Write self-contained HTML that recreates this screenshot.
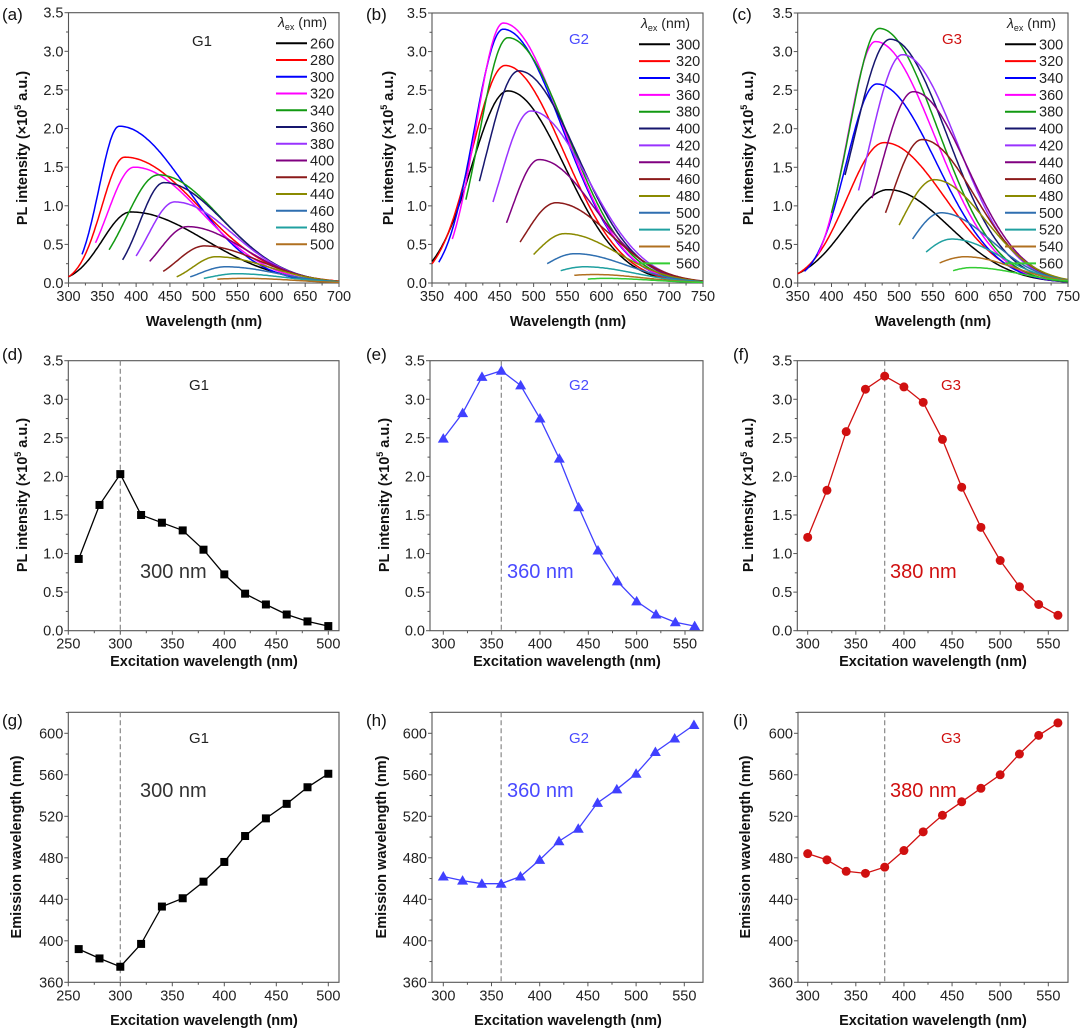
<!DOCTYPE html>
<html><head><meta charset="utf-8"><style>
body{margin:0;background:#fff;}
svg{display:block;font-family:"Liberation Sans",Arial,sans-serif;}
</style></head><body>
<svg id="fig" width="1080" height="1031" viewBox="0 0 1080 1031" xmlns="http://www.w3.org/2000/svg"></svg>
<script>
// ---------- DATA ----------
const colorsA = ["#000000","#ff0000","#0000ff","#ff00ff","#119911","#16166e","#9933ff","#800080","#8b1a1a","#8a8a00","#2f6fb0","#20a0a0","#b07020"];
const colorsBC = ["#000000","#ff0000","#0000ff","#ff00ff","#119911","#16166e","#9933ff","#800080","#8b1a1a","#8a8a00","#2f6fb0","#20a0a0","#b07020","#33cc33"];
// (a) G1 spectra
const exA = [260,280,300,320,340,360,380,400,420,440,460,480,500];
const startXA = [300,300,320,340,360,380,400,420,440,460,480,500,520];
const startYA = [0.08,0.08,0.37,0.52,0.43,0.30,0.35,0.28,0.15,0.08,0.08,0.06,0.05];
const peakXA = [392,383,375,397,433,441,457,476,501,518,532,548,561];
const peakYA = [0.92,1.63,2.03,1.50,1.40,1.30,1.05,0.73,0.48,0.34,0.21,0.12,0.06];
const sigA = [110,110,100,100,92,90,86,84,80,78,75,72,70];
// (b) G2 spectra
const exB = [300,320,340,360,380,400,420,440,460,480,500,520,540,560];
const startXB = [350,350,360,380,400,420,440,460,480,500,520,540,560,580];
const startYB = [0.28,0.25,0.27,0.57,1.08,1.32,1.05,0.78,0.53,0.37,0.25,0.16,0.10,0.05];
const peakXB = [462,458,455,455,462,478,496,508,533,546,561,575,590,605];
const peakYB = [2.49,2.82,3.29,3.37,3.18,2.75,2.23,1.60,1.04,0.64,0.38,0.21,0.11,0.06];
const sigB = [84,86,88,88,88,86,84,82,80,78,76,74,72,70];
// (c) G3 spectra
const exC = [300,320,340,360,380,400,420,440,460,480,500,520,540,560];
const startXC = [350,350,360,380,400,420,440,460,480,500,520,540,560,580];
const startYC = [0.12,0.12,0.15,0.37,0.91,1.40,1.20,1.10,0.91,0.75,0.57,0.40,0.26,0.16];
const peakXC = [484,478,467,465,471,487,505,521,534,552,562,578,598,608];
const peakYC = [1.21,1.82,2.58,3.13,3.30,3.16,2.96,2.48,1.86,1.34,0.91,0.57,0.34,0.20];
const sigC = [90,90,88,88,86,84,82,80,78,76,74,72,70,70];
// (d)(e)(f) intensity vs excitation
const exD = [260,280,300,320,340,360,380,400,420,440,460,480,500];
const intD = [0.93,1.63,2.03,1.50,1.40,1.30,1.05,0.73,0.48,0.34,0.21,0.12,0.06];
const exE = [300,320,340,360,380,400,420,440,460,480,500,520,540,560];
const intE = [2.49,2.82,3.29,3.37,3.18,2.75,2.23,1.60,1.04,0.64,0.38,0.21,0.11,0.06];
const exF = [300,320,340,360,380,400,420,440,460,480,500,520,540,560];
const intF = [1.21,1.82,2.58,3.13,3.30,3.16,2.96,2.48,1.86,1.34,0.91,0.57,0.34,0.20];
// (g)(h)(i) emission vs excitation
const emG = [392,383,375,397,433,441,457,476,501,518,532,548,561];
const emH = [462,458,455,455,462,478,496,508,533,546,561,582,595,608];
const emI = [484,478,467,465,471,487,505,521,534,547,560,580,598,610];
const ticksYI = [0,0.5,1.0,1.5,2.0,2.5,3.0,3.5];
const ticksYE = [360,400,440,480,520,560,600];

// ---------- HELPERS ----------
const NS="http://www.w3.org/2000/svg";
const svg=document.getElementById('fig');
const TF=14.5;
function mk(tag,attrs,parent){const e=document.createElementNS(NS,tag);for(const k in attrs)e.setAttribute(k,attrs[k]);(parent||svg).appendChild(e);return e;}
function txt(s,x,y,attrs,parent){const e=mk('text',Object.assign({x:x,y:y},attrs),parent);e.textContent=s;return e;}

function axes(p){
  const g=mk('g',{});
  
  
  const X=v=>p.xa+(v-p.x0)*(p.xb-p.xa)/(p.x1-p.x0);
  const Y=v=>p.ya+(v-p.y0)*(p.yb-p.ya)/(p.y1-p.y0);
  p.X=X;p.Y=Y;p.g=g;
  const fr=mk('rect',{x:p.l,y:p.t,width:p.r-p.l,height:p.b-p.t,fill:'none',stroke:'#555',"stroke-width":1.1},g);
  
  
  for(const v of p.xt){const x=X(v);if(x>p.r+0.5)continue;mk('line',{x1:x,x2:x,y1:p.b,y2:p.b+4,stroke:'#555'},g);
    const t=txt(String(v),x,p.b+18,{"font-size":TF,"text-anchor":"middle",fill:'#222'},g);
    
    }
  for(const v of p.xm){const x=X(v);if(x>p.r||x<p.l)continue;mk('line',{x1:x,x2:x,y1:p.b,y2:p.b+2.5,stroke:'#555'},g);}
  for(const v of p.yt){const y=Y(v);mk('line',{x1:p.l-4,x2:p.l,y1:y,y2:y,stroke:'#555'},g);
    const t=txt(p.dec?v.toFixed(1):String(v),p.l-5,y+5,{"font-size":TF,"text-anchor":"end",fill:'#222'},g);
    
    }
  for(const v of p.ym){const y=Y(v);if(y<p.t-0.5)continue;mk('line',{x1:p.l-2.5,x2:p.l,y1:y,y2:y,stroke:'#555'},g);}
  return p;
}
function range(a,b,s){const r=[];for(let v=a;v<=b+1e-9;v+=s)r.push(+v.toFixed(3));return r;}
function plLabel(x,y,name){
  const t=mk('text',{x:0,y:0,transform:`translate(${x},${y}) rotate(-90)`,"font-size":14.5,"font-weight":"bold","text-anchor":"middle",fill:'#111'});
  
  
  const a=mk('tspan',{},t);a.textContent='PL intensity (×10';
  const b=mk('tspan',{"font-size":9,dy:-6},t);b.textContent='5';
  const c=mk('tspan',{dy:6},t);c.textContent=' a.u.)';
}
function yLab(s,x,y,name){const t=txt(s,0,0,{transform:`translate(${x},${y}) rotate(-90)`,"font-size":14.5,"font-weight":"bold","text-anchor":"middle",fill:'#111'});
  
  }
function xLab(s,x,y,name){const t=txt(s,x,y,{"font-size":14.5,"font-weight":"bold","text-anchor":"middle",fill:'#111'});
  
  }
function panelLetter(s,x,y){const t=txt(s,x,y,{"font-size":17,fill:'#111'});
  
  }
function note(s,x,y,col,size,name){const t=txt(s,x,y,{"font-size":size,fill:col});
  
  }

function spectra(p,sx,sy,px,py,sg,cols){
  for(let i=0;i<px.length;i++){
    const sL=(px[i]-sx[i])/Math.sqrt(2*Math.log(py[i]/sy[i]));
    let d='';
    for(let x=sx[i];x<=p.x1;x+=2){
      const dx=x-px[i];
      const s=dx<0?sL:sg[i];
      const v=py[i]*Math.exp(-dx*dx/(2*s*s));
      d+=(d?'L':'M')+p.X(x).toFixed(1)+','+p.Y(v).toFixed(1);
    }
    const path=mk('path',{d:d,fill:'none',stroke:cols[i],"stroke-width":1.5},p.g);
    
    
  }
}
function legend(ex,cols,lx,tx,y0,step,ty){
  const g=mk('g',{});
  
  
  const t=mk('text',{x:lx+2,y:ty,"font-size":14,fill:'#222'},g);
  const a=mk('tspan',{"font-style":"italic"},t);a.textContent='λ';
  const b=mk('tspan',{"font-size":9,dy:3},t);b.textContent='ex';
  const c=mk('tspan',{dy:-3},t);c.textContent=' (nm)';
  for(let i=0;i<ex.length;i++){
    const y=y0+i*step;
    const l=mk('line',{x1:lx,x2:lx+31,y1:y,y2:y,stroke:cols[i],"stroke-width":2},g);
    
    
    txt(String(ex[i]),tx,y+5,{"font-size":14.5,fill:'#222'},g);
  }
}
function series(p,xs,ys,col,marker,vx){
  const gl=p.g;
  const dl=mk('line',{x1:p.X(vx),x2:p.X(vx),y1:p.t,y2:p.b,stroke:'#888',"stroke-width":1.2,"stroke-dasharray":"5,3"},gl);
  
  
  let d='';
  xs.forEach((x,i)=>{d+=(i?'L':'M')+p.X(x).toFixed(1)+','+p.Y(ys[i]).toFixed(1);});
  const ln=mk('path',{d:d,fill:'none',stroke:col,"stroke-width":1.3},gl);
  
  
  xs.forEach((x,i)=>{
    const cx=p.X(x),cy=p.Y(ys[i]);let m;
    if(marker==='square')m=mk('rect',{x:cx-4,y:cy-4,width:8,height:8,fill:col},gl);
    else if(marker==='circle')m=mk('circle',{cx:cx,cy:cy,r:4.5,fill:col},gl);
    else m=mk('path',{d:`M${cx},${cy-5.5}L${cx+5.5},${cy+4}L${cx-5.5},${cy+4}Z`,fill:col},gl);
    
    
  });
}

// ---------- ROW 1 ----------
const yT=ticksYI, yM=[0.25,0.75,1.25,1.75,2.25,2.75,3.25];
let pa=axes({name:'panel-a',l:68.5,r:339,t:12.7,b:283,x0:300,x1:700,xa:68.5,xb:339,y0:0,y1:3.5,ya:283,yb:12.7,xt:range(300,700,50),xm:range(325,675,50),yt:yT,ym:yM,dec:true});
spectra(pa,startXA,startYA,peakXA,peakYA,sigA,colorsA);
legend(exA,colorsA,276,310,43.3,16.75,27);
panelLetter('(a)',2,20);note('G1',192,46,'#222',15,'sample-label');
plLabel(27,148,'y-axis-title');xLab('Wavelength (nm)',204,326,'x-axis-title');

let pb=axes({name:'panel-b',l:432,r:703,t:13,b:283,x0:350,x1:750,xa:432,xb:703,y0:0,y1:3.5,ya:283,yb:13,xt:range(350,750,50),xm:range(375,725,50),yt:yT,ym:yM,dec:true});
spectra(pb,startXB,startYB,peakXB,peakYB,sigB,colorsBC);
legend(exB,colorsBC,639,676,44.3,16.85,28);
panelLetter('(b)',366,20);note('G2',569,44,'#4a4aff',15,'sample-label');
plLabel(393,148,'y-axis-title');xLab('Wavelength (nm)',568,326,'x-axis-title');

let pc=axes({name:'panel-c',l:797.7,r:1068,t:13,b:283,x0:350,x1:750,xa:797.7,xb:1068,y0:0,y1:3.5,ya:283,yb:13,xt:range(350,750,50),xm:range(375,725,50),yt:yT,ym:yM,dec:true});
spectra(pc,startXC,startYC,peakXC,peakYC,sigC,colorsBC);
legend(exC,colorsBC,1005,1039,44.3,16.85,28);
panelLetter('(c)',732,20);note('G3',942,44,'#d01010',15,'sample-label');
plLabel(753,148,'y-axis-title');xLab('Wavelength (nm)',933,326,'x-axis-title');

// ---------- ROW 2 ----------
let pd=axes({name:'panel-d',l:68.3,r:339,t:360.7,b:630.7,x0:250,x1:500,xa:68.3,xb:328.3,y0:0,y1:3.5,ya:630.7,yb:360.7,xt:range(250,500,50),xm:range(275,475,50),yt:yT,ym:yM,dec:true});
series(pd,exD,intD,'#000','square',300);
panelLetter('(d)',2,360);note('G1',189,390,'#222',15,'sample-label');note('300 nm',140,578,'#333',20,'peak-annotation');
plLabel(27,495,'y-axis-title');xLab('Excitation wavelength (nm)',204,666,'x-axis-title');

let pe=axes({name:'panel-e',l:430,r:703,t:360.7,b:630.7,x0:300,x1:550,xa:443.3,xb:685,y0:0,y1:3.5,ya:630.7,yb:360.7,xt:range(300,550,50),xm:range(325,575,50),yt:yT,ym:yM,dec:true});
series(pe,exE,intE,'#4040ff','triangle',360);
panelLetter('(e)',366,360);note('G2',569,390,'#4a4aff',15,'sample-label');note('360 nm',507,578,'#4a4aff',20,'peak-annotation');
plLabel(389,495,'y-axis-title');xLab('Excitation wavelength (nm)',567,666,'x-axis-title');

let pf=axes({name:'panel-f',l:797.3,r:1068,t:360.7,b:630.7,x0:300,x1:550,xa:807.7,xb:1048.3,y0:0,y1:3.5,ya:630.7,yb:360.7,xt:range(300,550,50),xm:range(325,575,50),yt:yT,ym:yM,dec:true});
series(pf,exF,intF,'#d01010','circle',380);
panelLetter('(f)',733,360);note('G3',941,390,'#d01010',15,'sample-label');note('380 nm',890,578,'#d01010',20,'peak-annotation');
plLabel(753,495,'y-axis-title');xLab('Excitation wavelength (nm)',933,666,'x-axis-title');

// ---------- ROW 3 ----------
const yM3=[380,420,460,500,540,580,620];
let pg=axes({name:'panel-g',l:68.3,r:339,t:712.3,b:982.3,x0:250,x1:500,xa:68.3,xb:328.3,y0:360,y1:600,ya:982.3,yb:733.3,xt:range(250,500,50),xm:range(275,475,50),yt:ticksYE,ym:yM3,dec:false});
series(pg,exD,emG,'#000','square',300);
panelLetter('(g)',2,726);note('G1',189,743,'#222',15,'sample-label');note('300 nm',140,797,'#333',20,'peak-annotation');
yLab('Emission wavelength (nm)',21,847,'y-axis-title');xLab('Excitation wavelength (nm)',204,1025,'x-axis-title');

let ph=axes({name:'panel-h',l:432,r:703,t:712.3,b:982.3,x0:300,x1:550,xa:443.3,xb:684.3,y0:360,y1:600,ya:982.3,yb:733.3,xt:range(300,550,50),xm:range(325,575,50),yt:ticksYE,ym:yM3,dec:false});
series(ph,exE,emH,'#4040ff','triangle',360);
panelLetter('(h)',366,726);note('G2',569,743,'#4a4aff',15,'sample-label');note('360 nm',507,797,'#4a4aff',20,'peak-annotation');
yLab('Emission wavelength (nm)',386,847,'y-axis-title');xLab('Excitation wavelength (nm)',568,1025,'x-axis-title');

let pi=axes({name:'panel-i',l:798,r:1068,t:712.3,b:982.3,x0:300,x1:550,xa:807.7,xb:1048.3,y0:360,y1:600,ya:982.3,yb:733.3,xt:range(300,550,50),xm:range(325,575,50),yt:ticksYE,ym:yM3,dec:false});
series(pi,exF,emI,'#d01010','circle',380);
panelLetter('(i)',733,726);note('G3',941,743,'#d01010',15,'sample-label');note('380 nm',890,797,'#d01010',20,'peak-annotation');
yLab('Emission wavelength (nm)',750,847,'y-axis-title');xLab('Excitation wavelength (nm)',933,1025,'x-axis-title');
</script>
</body></html>
